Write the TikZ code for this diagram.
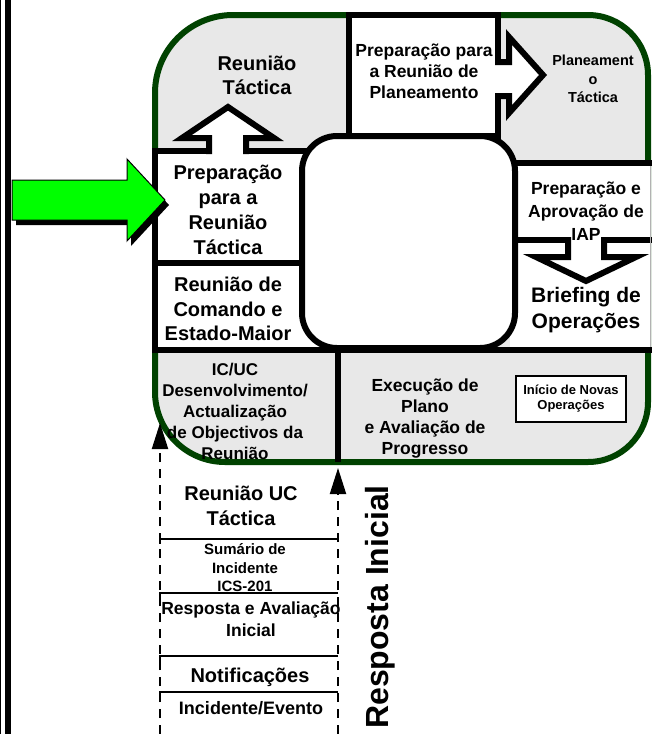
\documentclass[tikz,border=0pt]{standalone}
\usepackage{fontspec}
\setmainfont{Liberation Sans}
\usetikzlibrary{arrows.meta}
\definecolor{panelgray}{RGB}{232,232,232}
\definecolor{rimgreen}{RGB}{0,66,0}
\definecolor{brightgreen}{RGB}{0,255,0}
\newcommand{\lblfont}[2]{\fontsize{#1}{#2}\selectfont\bfseries}

\begin{document}
\begin{tikzpicture}[x=1pt,y=-1pt,
  heavy/.style={line width=6pt, line join=miter},
  thinrule/.style={line width=2pt},
  lbl/.style={align=center, inner sep=0pt, text=black},
  dashrule/.style={line width=2pt, dash pattern=on 9pt off 7pt},
  uptip/.style={-{Triangle[width=16pt,length=26pt]}}]
\useasboundingbox (0,0) rectangle (652,734);

% double bar along the left margin
\fill[black] (0,0) rectangle (1.3,734);
\fill[black] (4.5,0) rectangle (11,734);

% outer rounded panel
\path[fill=panelgray, draw=rimgreen, line width=6pt]
  (155,93) arc[start angle=180,end angle=270,radius=78]
  -- (588,15) arc[start angle=270,end angle=360,radius=60]
  -- (648,402) arc[start angle=0,end angle=90,radius=60]
  -- (225,462) arc[start angle=90,end angle=180,radius=70]
  -- cycle;

% top box
\draw[heavy, fill=white] (349,15) rectangle (498,136);

% right column boxes
\fill[white] (510,163) rectangle (650,350);
\draw[heavy] (510,163) -- (652,163);
\draw[heavy] (512,240) -- (652,240);
\draw[line width=1pt, gray!60] (650,166) -- (650,347);

% left column boxes
\fill[white] (155,151) rectangle (320,350);
\draw[heavy] (320,151) -- (155,151) -- (155,350);
\draw[heavy] (155,263) -- (310,263);

% lower dividers
\draw[heavy] (152,350) -- (652,350);
\draw[heavy] (338,350) -- (338,462);

% central rounded square
\draw[heavy, fill=white, rounded corners=35pt] (302,136) rectangle (515,348);

% outline arrows
\fill[white] (209,156) -- (209,138) -- (182,138) -- (228,107) -- (274,138) -- (246,138) -- (246,156) -- cycle;
\draw[heavy] (209,154) -- (209,138) -- (182,138) -- (228,107) -- (274,138) -- (246,138) -- (246,154);

\fill[white] (494,62) -- (509,62) -- (509,37) -- (543,75) -- (509,113) -- (509,96) -- (494,96) -- cycle;
\draw[heavy] (495,62) -- (509,62) -- (509,37) -- (543,75) -- (509,113) -- (509,96) -- (495,96);

\fill[white] (568,236) -- (568,257) -- (536,257) -- (586,281) -- (636,257) -- (604,257) -- (604,236) -- cycle;
\draw[heavy] (568,237) -- (568,257) -- (536,257) -- (586,281) -- (636,257) -- (604,257) -- (604,237);

% small box
\draw[line width=2pt, fill=white] (516,376) rectangle (626,422);

% green entry arrow with its shadow
\fill[black, shift={(4,5)}] (12,180) -- (127,180) -- (127,159) -- (165,200) -- (127,241) -- (127,220) -- (12,220) -- cycle;
\filldraw[fill=brightgreen, draw=black, line width=1pt] (12,180) -- (127,180) -- (127,159) -- (165,200) -- (127,241) -- (127,220) -- (12,220) -- cycle;

% labels in the panel
\node[lbl, font=\lblfont{20}{24}] (rt) at (257,75) {Reunião\\Táctica};
\node[lbl, font=\lblfont{17.5}{21}] (prp) at (424,71) {Preparação para\\a Reunião de\\Planeamento};
\node[lbl, font=\lblfont{14.5}{18.5}] (pt) at (593,79) {Planeament\\o\\Táctica};
\node[lbl, font=\lblfont{20}{25}] (prt) at (228,210) {Preparação\\para a\\Reunião\\Táctica};
\node[lbl, font=\lblfont{20}{24.5}] (rce) at (228,309) {Reunião de\\Comando e\\Estado-Maior};
\node[lbl, font=\lblfont{17.5}{23}] (pai) at (586,211) {Preparação e\\Aprovação de\\IAP};
\node[lbl, font=\lblfont{21}{26}] (bo) at (586,310) {Briefing de\\Operações};
\node[lbl, font=\lblfont{17}{21}] (ic) at (235,411) {IC/UC\\Desenvolvimento/\\Actualização\\de Objectivos da\\Reunião};
\node[lbl, font=\lblfont{17.5}{21}] (ex) at (425,419) {Execução de\\Plano\\e Avaliação de\\Progresso};
\node[lbl, font=\lblfont{13}{15}] (ino) at (571,399) {Início de Novas\\Operações};

% initial response stack
\node[lbl, font=\lblfont{20}{25}] (ruc) at (241,506) {Reunião UC\\Táctica};
\node[lbl, font=\lblfont{15}{18.5}] (si) at (245,568) {Sumário de\\Incidente\\ICS-201};
\node[lbl, font=\lblfont{17.5}{22}] (rai) at (251,619) {Resposta e Avaliação\\Inicial};
\node[lbl, font=\lblfont{20}{24}] (nt) at (250,677) {Notificações};
\node[lbl, font=\lblfont{18}{22}] (ie) at (251,708) {Incidente/Evento};

\coordinate (s1r) at (338,539); \coordinate (s1l) at (160,539);
\coordinate (s2r) at (338,593); \coordinate (s2l) at (160,593);
\coordinate (s3r) at (338,656); \coordinate (s3l) at (160,656);
\coordinate (s4r) at (338,692); \coordinate (s4l) at (160,692);
\draw[thinrule] (s1r) -- (s1l) -- ++(0,5);
\draw[thinrule] (s2r) -- (s2l) -- ++(0,5);
\draw[thinrule] (s3r) -- (s3l) -- ++(0,5);
\draw[thinrule] (s4r) -- (s4l) -- ++(0,5);

\coordinate (lbot) at (160,734); \coordinate (ltop) at (160,423);
\coordinate (rbot) at (338,734); \coordinate (rtop) at (338,468);
\draw[dashrule, uptip] (lbot) -- (ltop);
\draw[dashrule, uptip] (rbot) -- (rtop);

\node[lbl, font=\lblfont{32}{36}, rotate=90] (ri) at (380,607) {Resposta Inicial};
\end{tikzpicture}
\end{document}
